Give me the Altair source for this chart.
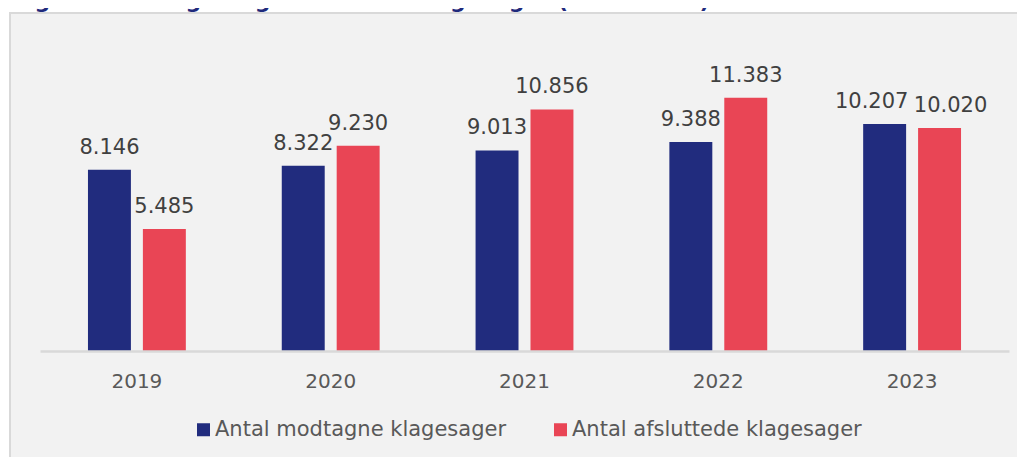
import altair as alt
import pandas as pd

years = ["2019", "2020", "2021", "2022", "2023"]
series_names = ["Antal modtagne klagesager", "Antal afsluttede klagesager"]
received = [8146, 8322, 9013, 9388, 10207]
closed = [5485, 9230, 10856, 11383, 10020]
title_text = "Figur 1 Modtagne og afsluttede klagesager (2019-2023)"

rows = []
for y, v in zip(years, received):
    rows.append({"year": y, "series": series_names[0], "value": v})
for y, v in zip(years, closed):
    rows.append({"year": y, "series": series_names[1], "value": v})
df = pd.DataFrame(rows)
df["label"] = df["value"].map(lambda v: f"{v:,}".replace(",", "."))

BLUE = "#212c7e"
RED = "#e94555"
FONT = "DejaVu Sans"

x_enc = alt.X("year:N", sort=years, title=None,
              scale=alt.Scale(paddingInner=0.495, paddingOuter=0.2475, round=False),
              axis=alt.Axis(labelAngle=0, labelFont=FONT, labelFontSize=20,
                            labelColor="#595959", ticks=False, tickSize=0,
                            labelPadding=36, labelBaseline="alphabetic",
                            domainColor="#d9d9d9", domainWidth=2.5, grid=False,
                            zindex=1))
xoff = alt.XOffset("series:N", sort=series_names,
                   scale=alt.Scale(paddingInner=0.218, paddingOuter=0, round=False))
y_enc = alt.Y("value:Q", scale=alt.Scale(domain=[0, 12000]), axis=None)
color_enc = alt.Color("series:N", sort=series_names,
                      scale=alt.Scale(domain=series_names, range=[BLUE, RED]),
                      legend=alt.Legend(title=None, orient="none", direction="horizontal",
                                        legendX=153, legendY=335, padding=0,
                                        symbolType="square", symbolSize=169,
                                        symbolStrokeWidth=0, symbolOpacity=1,
                                        labelFont=FONT, labelFontSize=21,
                                        labelColor="#595959", labelOffset=1,
                                        columnPadding=43, labelLimit=400,
                                        zindex=1))

bg = alt.Chart(pd.DataFrame({"a": [0]})).mark_rect(
    fill="#f2f2f2", stroke="#d9d9d9", strokeWidth=2
).encode(x=alt.value(-30), x2=alt.value(1000), y=alt.value(-71), y2=alt.value(400))

title = alt.Chart(pd.DataFrame({"t": [title_text]})).mark_text(
    font=FONT, fontSize=22, fontWeight="bold", color="#1f2a7c",
    align="left", baseline="alphabetic"
).encode(x=alt.value(-28), y=alt.value(-76), text="t:N")

base = alt.Chart(df)
bars = base.mark_bar().encode(x=x_enc, xOffset=xoff, y=y_enc, color=color_enc)

text_common = dict(font=FONT, fontSize=21, color="#404040", baseline="alphabetic", dy=-16)
labels_main = base.transform_filter(alt.datum.year != "2023").mark_text(**text_common).encode(
    x=alt.X("year:N", sort=years), xOffset=xoff, y=y_enc, text="label:N")
labels_b23 = base.transform_filter(
    (alt.datum.year == "2023") & (alt.datum.series == series_names[0])
).mark_text(dx=-13, **text_common).encode(
    x=alt.X("year:N", sort=years), xOffset=xoff, y=y_enc, text="label:N")
labels_r23 = base.transform_filter(
    (alt.datum.year == "2023") & (alt.datum.series == series_names[1])
).mark_text(dx=11, **text_common).encode(
    x=alt.X("year:N", sort=years), xOffset=xoff, y=y_enc, text="label:N")

chart = alt.layer(bg, title, bars, labels_main, labels_b23, labels_r23).properties(
    width=969, height=267,
    padding={"left": 32, "top": 76, "right": 8, "bottom": 106},
    autosize=alt.AutoSizeParams(type="none"),
    background="#ffffff",
).configure_view(stroke=None)

chart.save("out.html", embed_options={"renderer": "svg", "actions": False})
